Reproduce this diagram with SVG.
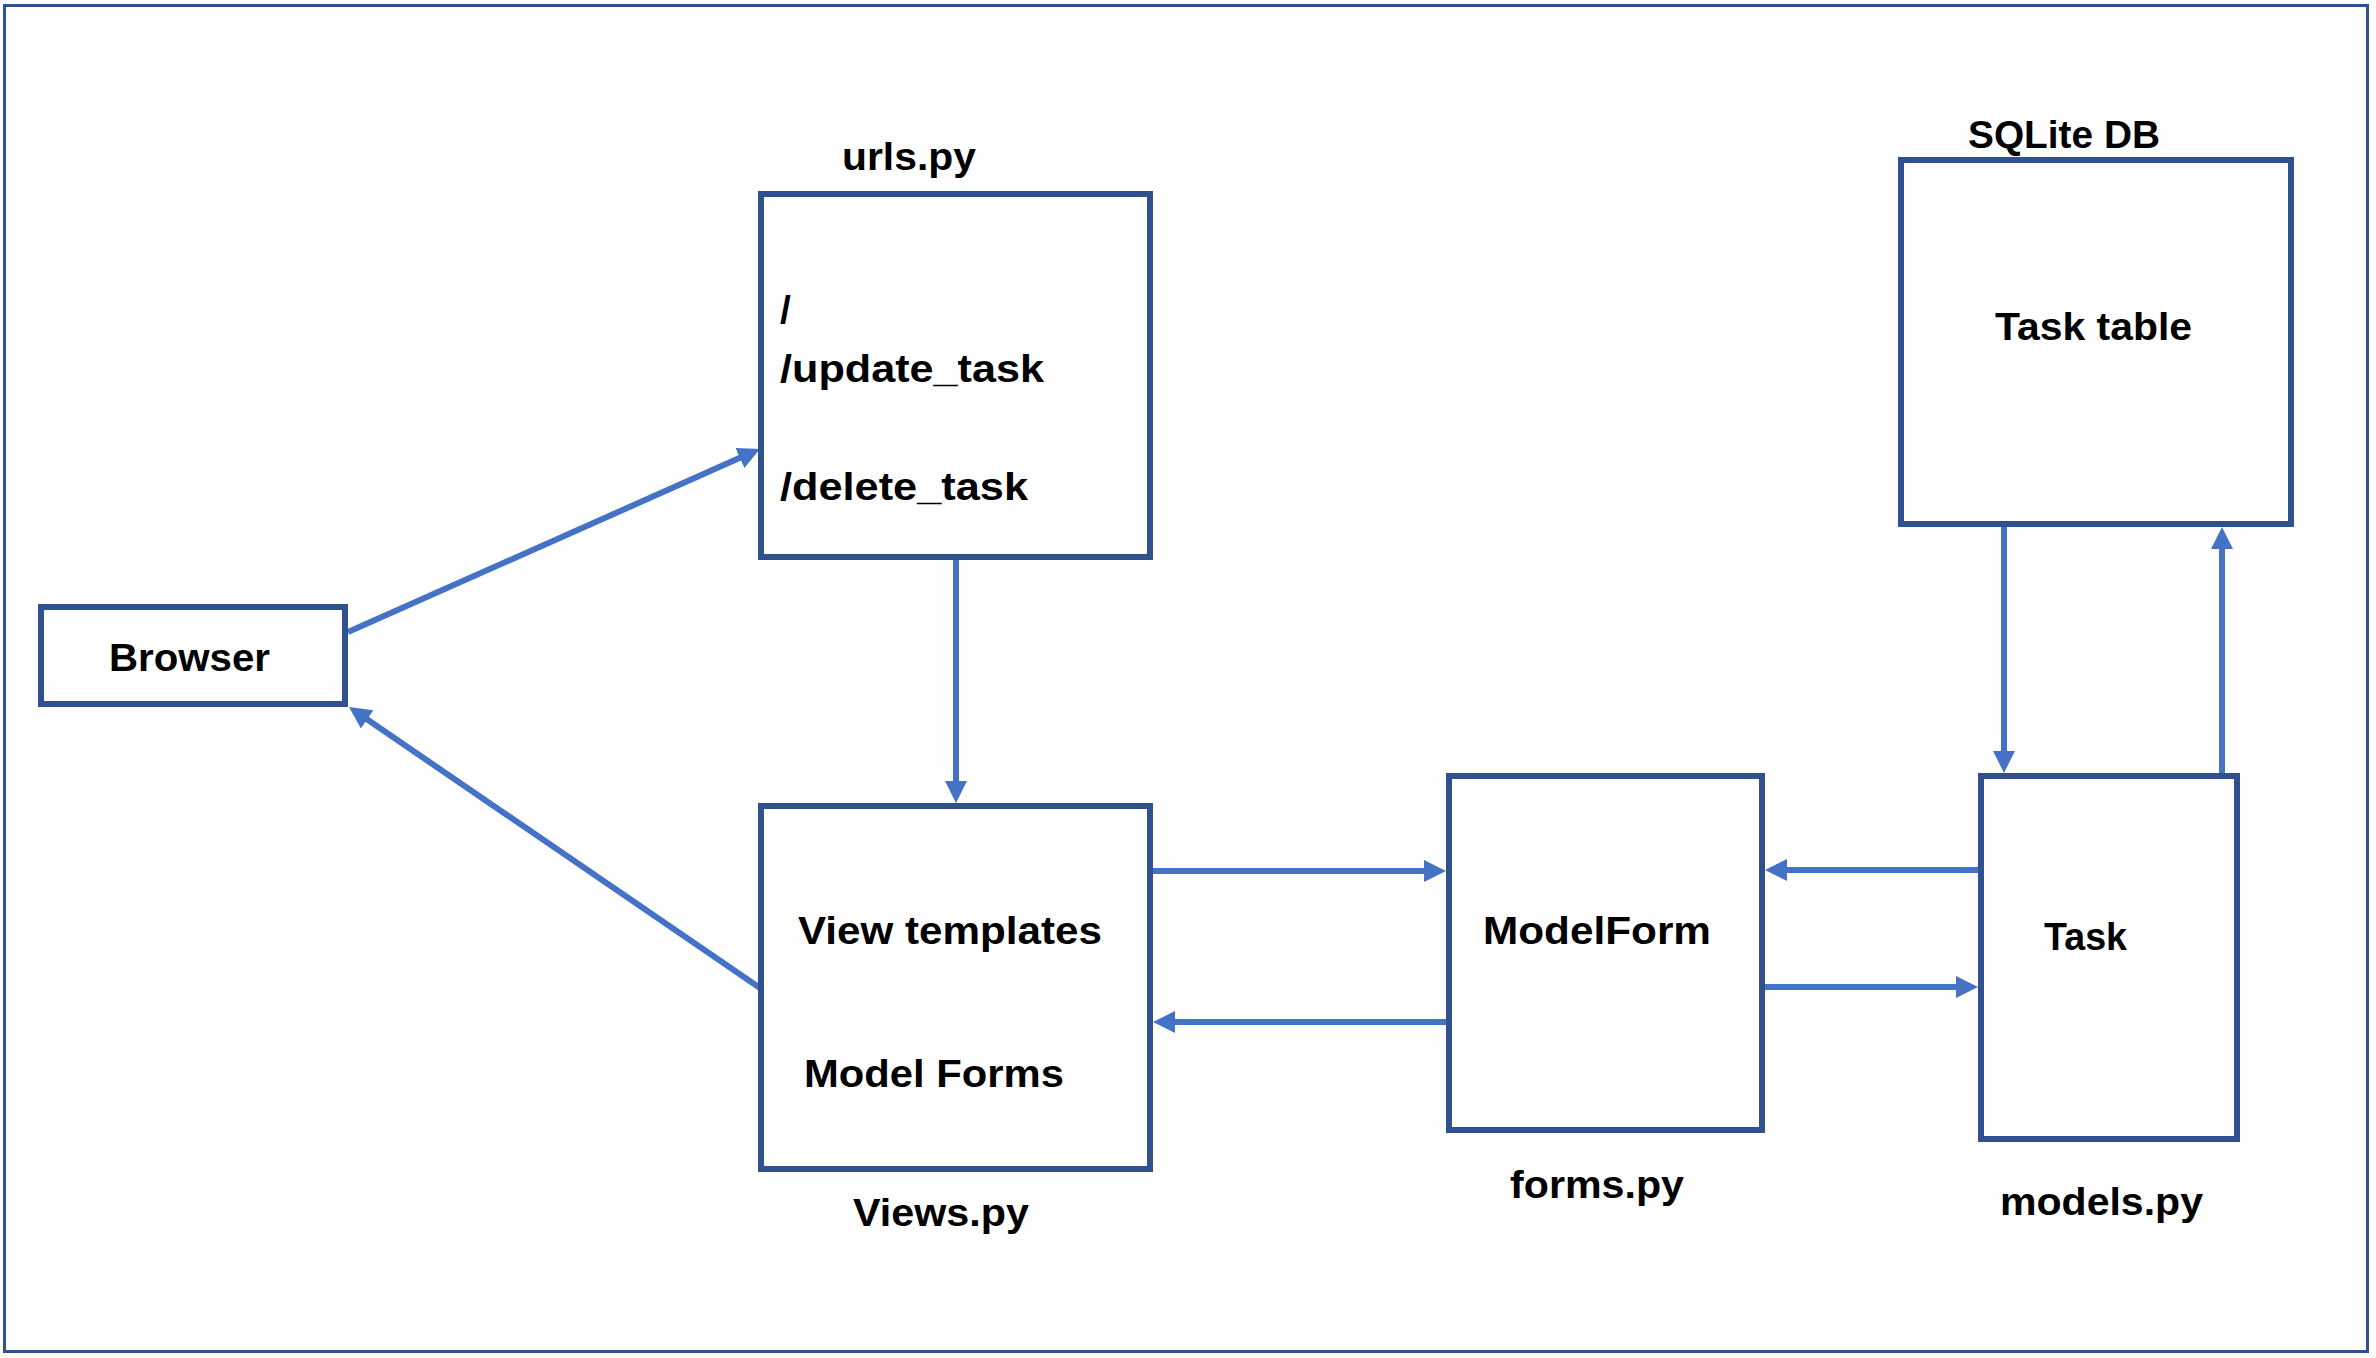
<svg xmlns="http://www.w3.org/2000/svg" width="2376" height="1358" viewBox="0 0 2376 1358">
  <style>
    .frame { fill: none; stroke: #2F528F; stroke-width: 3; }
    .box { fill: #FFFFFF; stroke: #2F528F; stroke-width: 6; }
    .lbl { font-family: "Liberation Sans", Arial, sans-serif; font-weight: bold; font-size: 39px; fill: #000000; }
    .conn { fill: none; stroke: #4472C4; stroke-width: 6; marker-end: url(#arrow); }
  </style>
  <defs>
    <marker id="arrow" markerUnits="userSpaceOnUse" markerWidth="22" markerHeight="22" viewBox="0 0 22 22" refX="2" refY="11" orient="auto">
      <path d="M0,0 L22,11 L0,22 z" fill="#4472C4"/>
    </marker>
  </defs>
  <rect width="2376" height="1358" fill="#FFFFFF"/>
  <rect class="frame" x="4.5" y="5.5" width="2363" height="1346"/>

  <g id="connectors">
    <line class="conn" x1="348" y1="632" x2="741.7" y2="457.1"/>
    <line class="conn" x1="956" y1="560" x2="956" y2="783"/>
    <line class="conn" x1="760" y1="988" x2="365.5" y2="718.3"/>
    <line class="conn" x1="1153" y1="871" x2="1426" y2="871"/>
    <line class="conn" x1="1446" y1="1022" x2="1173" y2="1022"/>
    <line class="conn" x1="1978" y1="870" x2="1785" y2="870"/>
    <line class="conn" x1="1765" y1="987" x2="1958" y2="987"/>
    <line class="conn" x1="2004" y1="527" x2="2004" y2="753"/>
    <line class="conn" x1="2222" y1="773" x2="2222" y2="547"/>
  </g>

  <g id="browser">
    <rect class="box" x="41" y="607" width="304" height="97"/>
    <text class="lbl" x="109" y="671" textLength="161" lengthAdjust="spacingAndGlyphs">Browser</text>
  </g>

  <g id="urls">
    <text class="lbl" x="842" y="170" textLength="134" lengthAdjust="spacingAndGlyphs">urls.py</text>
    <rect class="box" x="761" y="194" width="389" height="363"/>
    <text class="lbl" x="780" y="323">/</text>
    <text class="lbl" x="780" y="382" textLength="264" lengthAdjust="spacingAndGlyphs">/update_task</text>
    <text class="lbl" x="780" y="500" textLength="248" lengthAdjust="spacingAndGlyphs">/delete_task</text>
  </g>

  <g id="views">
    <rect class="box" x="761" y="806" width="389" height="363"/>
    <text class="lbl" x="798" y="944" textLength="304" lengthAdjust="spacingAndGlyphs">View templates</text>
    <text class="lbl" x="804" y="1087" textLength="260" lengthAdjust="spacingAndGlyphs">Model Forms</text>
    <text class="lbl" x="853" y="1226" textLength="176" lengthAdjust="spacingAndGlyphs">Views.py</text>
  </g>

  <g id="modelform">
    <rect class="box" x="1449" y="776" width="313" height="354"/>
    <text class="lbl" x="1483" y="944" textLength="228" lengthAdjust="spacingAndGlyphs">ModelForm</text>
    <text class="lbl" x="1510" y="1198" textLength="174" lengthAdjust="spacingAndGlyphs">forms.py</text>
  </g>

  <g id="task">
    <rect class="box" x="1981" y="776" width="256" height="363"/>
    <text class="lbl" x="2044" y="950" textLength="83" lengthAdjust="spacingAndGlyphs">Task</text>
    <text class="lbl" x="2000" y="1215" textLength="203" lengthAdjust="spacingAndGlyphs">models.py</text>
  </g>

  <g id="sqlite">
    <text class="lbl" x="1968" y="148" textLength="192" lengthAdjust="spacingAndGlyphs">SQLite DB</text>
    <rect class="box" x="1901" y="160" width="390" height="364"/>
    <text class="lbl" x="1995" y="340" textLength="197" lengthAdjust="spacingAndGlyphs">Task table</text>
  </g>
</svg>
